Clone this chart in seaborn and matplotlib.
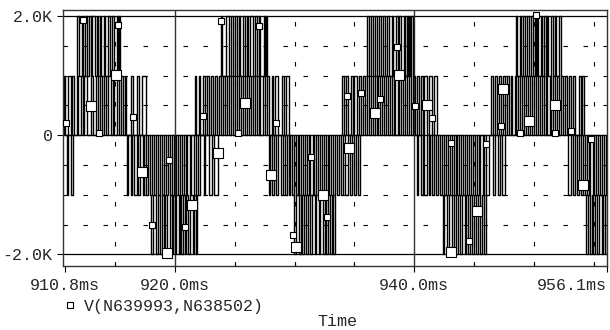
import matplotlib
matplotlib.use("Agg")
import matplotlib.pyplot as plt
from matplotlib.lines import Line2D
import numpy as np
import pandas as pd
import seaborn as sns

# ---------------- data (times in ms, voltages in V) ----------------
# switching edges of each PWM band (pulse i spans edges[2i]..edges[2i+1])
P1 = [910.72, 910.85, 911.05, 911.3, 911.42, 911.6, 911.78, 911.9, 912.12, 912.3, 912.42, 912.66,
      913.02, 913.15, 913.38, 913.55, 913.7, 913.92, 914.05, 914.28, 914.4, 914.62, 914.8, 914.95,
      915.18, 915.3, 915.52, 915.65, 915.85, 915.95, 916.32, 916.49, 916.82, 916.99, 917.24, 917.58]
H1 = [911.8, 911.95, 912.2, 912.3, 912.5, 912.62, 912.85, 913.0, 913.1, 913.3, 913.45, 913.6,
      913.78, 913.85, 914.05, 914.2, 914.45, 914.6, 914.72, 914.9, 915.15, 915.25, 915.35, 915.45]
N0 = [910.98, 911.08, 911.3, 911.45]
N1 = [916.0, 916.1, 916.3, 916.45, 916.6, 916.8, 916.95, 917.1, 917.3, 917.42, 917.6, 917.78,
      917.9, 918.1, 918.25, 918.42, 918.6, 918.72, 918.92, 919.08, 919.25, 919.4, 919.58, 919.75,
      919.9, 920.08, 920.22, 920.4, 920.58, 920.72, 920.9, 921.05, 921.25, 921.38, 921.58, 921.75,
      921.95, 922.1, 922.4, 922.55, 922.85, 923.1, 923.3, 923.58]
L1 = [918.0, 918.15, 918.4, 918.55, 918.75, 918.9, 919.05, 919.2, 919.35, 919.55, 919.72, 919.85,
      920.0, 920.12, 920.3, 920.42, 920.55, 920.7, 920.85, 920.95, 921.12, 921.3, 921.5, 921.6,
      921.75, 921.84]
P2 = [921.67, 921.8, 922.0, 922.1, 922.35, 922.5, 922.68, 922.85, 923.0, 923.2, 923.32, 923.52,
      923.7, 923.85, 924.02, 924.2, 924.35, 924.52, 924.7, 924.85, 925.0, 925.2, 925.35, 925.5,
      925.7, 925.85, 926.02, 926.18, 926.35, 926.5, 926.68, 926.82, 927.0, 927.15, 927.35, 927.5,
      927.7, 927.85, 928.1, 928.2, 928.4, 928.6, 928.95, 929.1, 929.3, 929.52]
H2 = [923.84, 923.95, 924.3, 924.55, 924.7, 924.85, 925.0, 925.15, 925.35, 925.45, 925.7, 925.85,
      926.0, 926.1, 926.3, 926.55, 926.7, 926.85, 927.0, 927.15, 927.45, 927.55, 927.62, 927.69]
N2 = [927.85, 927.95, 928.15, 928.3, 928.45, 928.62, 928.9, 929.0, 929.2, 929.35, 929.5, 929.65,
      929.8, 929.95, 930.1, 930.25, 930.4, 930.55, 930.72, 930.85, 931.0, 931.18, 931.32, 931.5,
      931.62, 931.8, 931.95, 932.1, 932.28, 932.42, 932.6, 932.75, 932.9, 933.05, 933.22, 933.38,
      933.55, 933.7, 933.9, 934.05, 934.25, 934.42, 934.6, 934.78, 934.95, 935.1, 935.3, 935.46]
L2 = [929.94, 930.1, 930.35, 930.5, 930.6, 930.8, 930.95, 931.1, 931.3, 931.45, 931.7, 931.82,
      932.05, 932.15, 932.35, 932.5, 932.62, 932.8, 932.95, 933.1, 933.2, 933.37]
P3 = [933.95, 934.1, 934.3, 934.42, 934.7, 934.85, 935.0, 935.2, 935.35, 935.55, 935.75, 935.9,
      936.05, 936.2, 936.38, 936.52, 936.7, 936.85, 937.0, 937.15, 937.32, 937.48, 937.65, 937.8,
      937.95, 938.12, 938.28, 938.42, 938.6, 938.75, 938.9, 939.08, 939.22, 939.4, 939.55, 939.72,
      939.88, 940.05, 940.2, 940.38, 940.52, 940.7, 940.85, 941.05, 941.2, 941.5, 941.62, 941.89]
H3 = [936.04, 936.2, 936.4, 936.55, 936.7, 936.85, 937.05, 937.2, 937.42, 937.55, 937.75, 937.9,
      938.1, 938.22, 938.45, 938.6, 938.75, 938.9, 939.1, 939.2, 939.4, 939.5, 939.55, 939.65,
      939.72, 939.88]
N3 = [940.22, 940.35, 940.55, 940.7, 940.85, 941.02, 941.2, 941.35, 941.5, 941.68, 941.85, 942.0,
      942.15, 942.32, 942.48, 942.65, 942.8, 942.95, 943.12, 943.28, 943.45, 943.6, 943.75, 943.92,
      944.08, 944.22, 944.4, 944.55, 944.72, 944.88, 945.05, 945.2, 945.38, 945.52, 945.7, 945.85,
      946.0, 946.2, 946.55, 946.78, 947.0, 947.18, 947.35, 947.57]
L3 = [942.39, 942.5, 942.75, 942.9, 943.15, 943.3, 943.5, 943.62, 943.85, 944.0, 944.2, 944.3,
      944.48, 944.62, 944.8, 944.95, 945.15, 945.3, 945.5, 945.62, 945.85, 945.98]
P4 = [946.4, 946.55, 946.72, 946.88, 947.05, 947.22, 947.4, 947.55, 947.72, 947.9, 948.05, 948.2,
      948.38, 948.52, 948.7, 948.85, 949.02, 949.18, 949.35, 949.5, 949.68, 949.82, 950.0, 950.15,
      950.32, 950.48, 950.65, 950.8, 950.98, 951.12, 951.3, 951.45, 951.62, 951.78, 951.95, 952.1,
      952.28, 952.42, 952.6, 952.75, 952.92, 953.08, 953.3, 953.45, 953.75, 953.95, 954.05, 954.17]
H4 = [948.49, 948.62, 948.8, 948.95, 949.12, 949.25, 949.45, 949.6, 949.78, 949.92, 950.1, 950.2,
      950.25, 950.35, 950.55, 950.65, 950.85, 951.0, 951.05, 951.2, 951.4, 951.55, 951.75, 951.85,
      952.05, 952.25]
N4 = [952.83, 953.1, 953.3, 953.42, 953.6, 953.75, 953.92, 954.08, 954.25, 954.4, 954.58, 954.72,
      954.9, 955.05, 955.22, 955.38, 955.55, 955.7, 955.88, 956.02]
L4 = [954.34, 954.5, 954.7, 954.85, 954.95, 955.1, 955.3, 955.45, 955.65, 955.8, 955.95, 956.1]

# band levels (low, high) in V
band_edges = [P1, H1, N0, N1, L1, P2, H2, N2, L2, P3, H3, N3, L3, P4, H4, N4, L4]
band_low = [0, 1000, 0, 0, -1000, 0, 1000, 0, -1000, 0, 1000, 0, -1000, 0, 1000, 0, -1000]
band_high = [1000, 2000, -1000, -1000, -2000, 1000, 2000, -1000, -2000, 1000, 2000, -1000, -2000,
             1000, 2000, -1000, -2000]

# trace markers (ms, V)
big_t = [912.96, 915.05, 917.24, 919.33, 921.42, 923.57, 925.87, 928.06, 930.08, 932.39, 934.54,
         936.69, 938.76, 941.03, 943.10, 945.23, 947.40, 949.55, 951.75, 954.06]
big_v = [487, 1008, -622, -1983, -1176, -302, 538, -672, -1866, -1000, -218,
         370, 1008, 504, -1966, -1277, 773, 240, 504, -840]
small_t = [910.87, 912.29, 913.65, 915.21, 916.47, 918.08, 919.47, 920.81, 922.38, 923.88, 925.30,
           927.04, 928.41, 929.88, 931.34, 932.74, 934.37, 935.54, 937.13, 938.59, 940.05, 941.51,
           943.03, 944.56, 945.98, 947.22, 948.82, 950.20, 951.75, 953.09, 954.76]
small_v = [202, 1938, 34, 1854, 303, -1513, -420, -1546, 319, 1908, 34,
           1837, 210, -1672, -361, -1373, 655, 706, 613, 1479, 492, 297,
           -126, -1773, -143, 156, 34, 2017, 34, 72, -67]

xtick_vals = [910.8, 920.0, 940.0, 956.1]
xtick_labels = ["910.8ms", "920.0ms", "940.0ms", "956.1ms"]
xminor_vals = [915, 925, 930, 935, 945, 950, 955]
ytick_vals = [-2000, 0, 2000]
ytick_labels = ["-2.0K", "0", "2.0K"]
legend_label = "V(N639993,N638502)"
xlabel = "Time"

# ---------------- build step traces ----------------
rows = []
for k, (edges, lo, hi) in enumerate(zip(band_edges, band_low, band_high)):
    for i in range(0, len(edges) - 1, 2):
        a, b = edges[i], edges[i + 1]
        rows += [(k, a, lo), (k, a, hi), (k, b, hi), (k, b, lo)]
df = pd.DataFrame(rows, columns=["band", "t", "v"])
mk_big = pd.DataFrame({"t": big_t, "v": big_v})
mk_small = pd.DataFrame({"t": small_t, "v": small_v})

# ---------------- plot ----------------
sns.set_theme(style="white")
plt.rcParams["font.family"] = ["Liberation Mono", "DejaVu Sans Mono"]
plt.rcParams["font.size"] = 12

W, H = 610, 330
fig = plt.figure(figsize=(W / 100, H / 100), dpi=100)
L, R, T, B = 63, 607, 9.5, 266
ax = fig.add_axes([L / W, 1 - B / H, (R - L) / W, (B - T) / H])

ax.set_xlim(910.65, 956.1)
ax.set_ylim(-2193, 2109)

# grid
dash = (0, (4, 14))
for yv in [-1500, -1000, -500, 500, 1000, 1500]:
    ax.axhline(yv, color="black", lw=0.8, ls=dash, zorder=1)
for xv in xminor_vals:
    ax.axvline(xv, color="black", lw=0.8, ls=dash, zorder=1)
for yv in ytick_vals:
    ax.axhline(yv, color="black", lw=0.9, zorder=1)
for xv in [920.0, 940.0]:
    ax.axvline(xv, color="#333333", lw=1.0, zorder=1)

sns.lineplot(data=df, x="t", y="v", units="band", estimator=None, sort=False,
             color="black", lw=1.0, legend=False, ax=ax, zorder=2)

sns.scatterplot(data=mk_small, x="t", y="v", marker="s", s=24, color="white",
                edgecolor="black", linewidth=0.8, ax=ax, zorder=3, clip_on=False)
sns.scatterplot(data=mk_big, x="t", y="v", marker="s", s=58, color="white",
                edgecolor="black", linewidth=0.8, ax=ax, zorder=3, clip_on=False)

for sp in ax.spines.values():
    sp.set_visible(True)
    sp.set_color("#333333")
    sp.set_linewidth(1.0)

ax.set_xticks(xtick_vals)
ax.set_xticklabels(xtick_labels)
ax.set_xticks(xminor_vals, minor=True)
ax.set_yticks(ytick_vals)
ax.set_yticklabels(ytick_labels)
ax.tick_params(axis="x", which="major", direction="out", length=4.5, width=0.8,
               color="black", pad=4, labelsize=12, bottom=True)
ax.tick_params(axis="x", which="minor", direction="in", length=2, width=0.8,
               color="black", bottom=True)
ax.tick_params(axis="y", which="major", direction="out", length=4.5, width=0.8,
               color="black", pad=3, labelsize=12, left=True)
labs = ax.get_xticklabels()
labs[-1].set_horizontalalignment("right")
labs[-1].set_x(956.1)
ax.set_xlabel("")
ax.set_ylabel("")

# legend entry
fig.add_artist(Line2D([70 / W], [1 - 305 / H], marker="s", markersize=5,
                      markerfacecolor="white", markeredgecolor="black",
                      markeredgewidth=0.8, linestyle="none"))
fig.text(84 / W, 1 - 306 / H, legend_label, ha="left", va="center", fontsize=12)
fig.text(337 / W, 1 - 322 / H, xlabel, ha="center", va="center", fontsize=12)

fig.savefig("out.png", dpi=100)
